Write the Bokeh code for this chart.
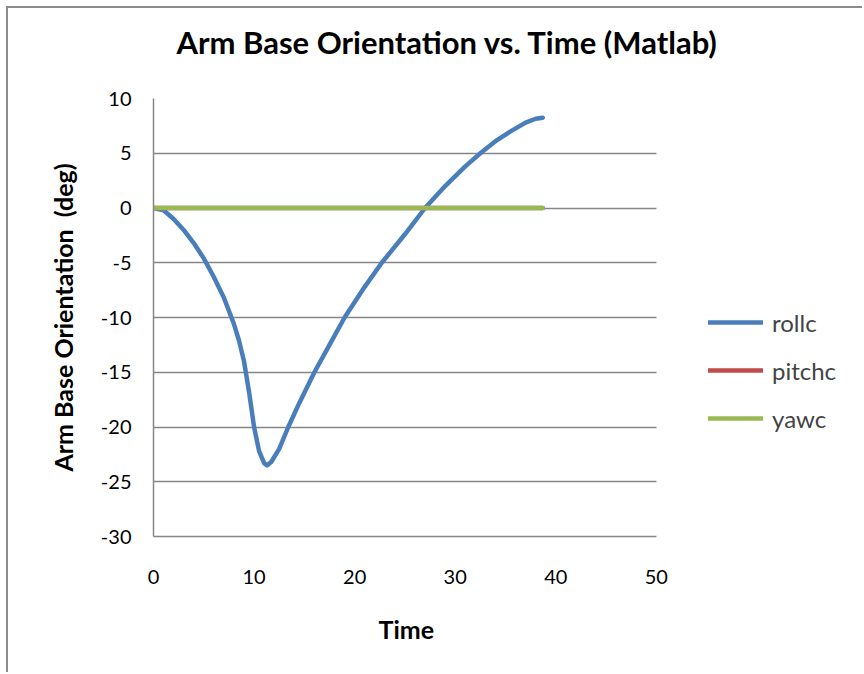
from bokeh.plotting import figure
from bokeh.models import Range1d, FixedTicker, Legend, LegendItem, Title
from bokeh.embed import file_html
from bokeh.resources import INLINE

# Data
time = [0, 1, 2, 3, 4, 5, 6, 7, 8, 8.5, 9, 9.5, 10, 10.5, 11, 11.3, 11.7, 12.5, 13.4,
        14.5, 16, 17.5, 19, 21, 22.7, 25, 27, 29, 31, 32.5, 34, 35.5, 37, 38, 38.7]
rollc = [0, -0.2, -1.0, -2.0, -3.2, -4.6, -6.3, -8.2, -10.6, -12.1, -14.0, -16.8,
         -20.0, -22.2, -23.3, -23.5, -23.2, -22.0, -20.0, -17.8, -15.0, -12.5, -10.0,
         -7.2, -5.0, -2.4, 0.0, 2.0, 3.8, 5.0, 6.1, 7.0, 7.8, 8.15, 8.25]
pitchc = [0.0] * len(time)
yawc = [0.0] * len(time)

y_ticks = [-30, -25, -20, -15, -10, -5, 0, 5, 10]
x_ticks = [0, 10, 20, 30, 40, 50]
x_axis_max = 50
y_axis_min, y_axis_max = -30, 10

FONT = "Lato"
GRID = "#868686"

# frame extends to the right of the axis (room for the legend);
# axis line and gridlines are bounded to the 0..50 axis extent
p = figure(width=856, height=666, output_backend="svg", toolbar_location=None,
           x_range=Range1d(0, 70), y_range=Range1d(y_axis_min, y_axis_max),
           min_border_left=145, min_border_right=7, min_border_top=90,
           min_border_bottom=138)
p.styles = {"margin-left": "6px", "margin-top": "6px",
            "border-left": "2px solid #8c8c8c", "border-top": "2px solid #8c8c8c"}

# spacer between title and frame
p.add_layout(Title(text=" ", text_font_size="4px", standoff=19), "above")

p.title.text = "Arm Base Orientation vs. Time (Matlab)"
p.title.text_font = FONT
p.title.text_font_size = "31px"
p.title.text_font_style = "bold"
p.title.text_color = "#000000"
p.title.align = "left"
p.title.offset = 23
p.title.vertical_align = "top"
p.title.standoff = 20

p.outline_line_color = None
p.xgrid.grid_line_color = None
if "cross_bounds" in p.ygrid[0].properties():
    p.ygrid.grid_line_color = GRID
    p.ygrid.grid_line_width = 1.5
    p.ygrid.cross_bounds = (0, x_axis_max)
else:
    p.ygrid.grid_line_color = None
    p.segment(x0=0, x1=x_axis_max, y0=y_ticks, y1=y_ticks,
              line_color=GRID, line_width=1.5)

for ax in (p.xaxis[0], p.yaxis[0]):
    ax.axis_line_color = GRID
    ax.axis_line_width = 1.5
    ax.major_tick_line_color = None
    ax.minor_tick_line_color = None
    ax.major_label_text_font = FONT
    ax.major_label_text_font_size = "20px"
    ax.major_label_text_color = "#000000"
    ax.axis_label_text_font = FONT
    ax.axis_label_text_font_size = "25px"
    ax.axis_label_text_font_style = "bold"
    ax.axis_label_text_color = "#000000"

p.xaxis.bounds = (0, x_axis_max)
p.xaxis.ticker = FixedTicker(ticks=x_ticks)
p.yaxis.ticker = FixedTicker(ticks=y_ticks)
p.yaxis.major_label_overrides = {t: str(t) for t in y_ticks}
p.yaxis.axis_label = "Arm Base Orientation \u00a0(deg)"
p.xaxis.major_label_standoff = 27
p.yaxis.major_label_standoff = 16
p.yaxis.axis_label_standoff = 20

# x-axis title, centred under the 0..50 axis
p.add_layout(Title(text="Time", text_font=FONT, text_font_size="25px",
                   text_font_style="bold", text_color="#000000",
                   align="left", offset=225, vertical_align="top",
                   standoff=54), "below")

r_roll = p.line(time, rollc, line_color="#4A7EBB", line_width=4.5, line_cap="round", line_join="round")
r_pitch = p.line(time, pitchc, line_color="#BE4B48", line_width=4.5, line_cap="round")
r_yaw = p.line(time, yawc, line_color="#98B954", line_width=4.5, line_cap="round")

legend = Legend(items=[LegendItem(label="rollc", renderers=[r_roll]),
                       LegendItem(label="pitchc", renderers=[r_pitch]),
                       LegendItem(label="yawc", renderers=[r_yaw])],
                location=(555, 103), orientation="vertical",
                glyph_width=55, glyph_height=30, label_height=30,
                spacing=18, padding=0, margin=0, label_standoff=9,
                label_text_font=FONT, label_text_font_size="24px",
                border_line_color=None, background_fill_alpha=0)
p.add_layout(legend, "center")

open("out.html", "w").write(file_html(p, INLINE))
